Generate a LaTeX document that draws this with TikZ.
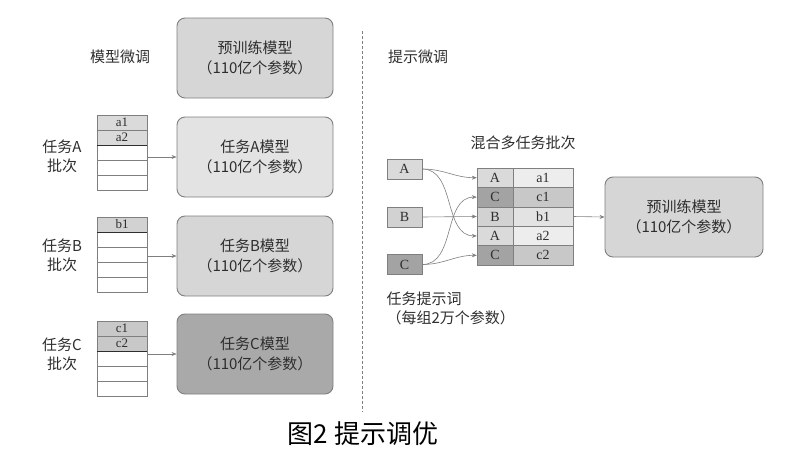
\documentclass[tikz,border=0pt]{standalone}
\usepackage{fontspec}
\setmainfont{Liberation Serif}
\newfontfamily\cjk{Noto Sans CJK SC}
\usetikzlibrary{arrows.meta}
\definecolor{bordo}{HTML}{7F7F7F}
\definecolor{testo}{HTML}{2E2E2E}
\definecolor{grigiomod}{HTML}{D6D6D6}
\definecolor{grigioA}{HTML}{E3E3E3}
\definecolor{grigioC}{HTML}{A9A9A9}
\definecolor{rigaA}{HTML}{DADADA}
\definecolor{rigaB}{HTML}{D2D2D2}
\definecolor{rigaC}{HTML}{C8C8C8}
\definecolor{chiaveC}{HTML}{A3A3A3}
\definecolor{chiaro}{HTML}{EDEDED}
\tikzset{
  modello/.style={draw=bordo, line width=0.9pt, rounded corners=8pt, minimum width=156pt, minimum height=80pt, align=center, text=testo, font=\cjk\fontsize{15}{20}\selectfont},
  riga/.style={draw=bordo, minimum width=50pt, minimum height=15pt, inner sep=0pt, text=testo, font=\fontsize{13}{13}\selectfont},
  cella/.style={draw=bordo, minimum height=19.4pt, inner sep=0pt, text=testo, font=\fontsize{14}{14}\selectfont},
  prompt/.style={draw=bordo, minimum width=35pt, minimum height=20pt, inner sep=0pt, text=testo, font=\fontsize{14}{14}\selectfont},
  etichetta/.style={text=testo, align=center, font=\cjk\fontsize{15}{19}\selectfont},
  freccia/.style={draw=bordo, line width=0.6pt, -{Stealth[length=5pt,width=4pt]}}
}
\begin{document}
\begin{tikzpicture}[x=1pt,y=-1pt]
  \useasboundingbox (0,0) rectangle (796,453);

  % parte sinistra: modello per ogni compito
  \node[etichetta] (titsx) at (120,57) {模型微调};
  \node[modello, fill=grigiomod] (pre) at (255,58) {预训练模型\\（110亿个参数）};
  \node[modello, fill=grigioA] (modA) at (255,157) {任务A模型\\（110亿个参数）};
  \node[modello, fill=grigiomod] (modB) at (255,256) {任务B模型\\（110亿个参数）};
  \node[modello, fill=grigioC] (modC) at (255,354) {任务C模型\\（110亿个参数）};

  % batch A
  \foreach \i/\t/\c in {1/a1/rigaA,2/a2/rigaA,3//white,4//white,5//white}
    \node[riga, fill=\c] (ba\i) at (122,107.5+15*\i) {\t};
  \draw[line width=1pt, testo] (ba2.south west) -- (ba2.south east);
  \node[etichetta] (labA) at (62,156) {任务A\\批次};
  \draw[freccia] (ba3.east |- modA) -- (modA.west);

  % batch B
  \foreach \i/\t/\c in {1/b1/rigaB,2//white,3//white,4//white,5//white}
    \node[riga, fill=\c] (bb\i) at (122,209.5+15*\i) {\t};
  \draw[line width=1pt, testo] (bb1.south west) -- (bb1.south east);
  \node[etichetta] (labB) at (62,255) {任务B\\批次};
  \draw[freccia] (bb3.east |- modB) -- (modB.west);

  % batch C
  \foreach \i/\t/\c in {1/c1/rigaC,2/c2/rigaC,3//white,4//white,5//white}
    \node[riga, fill=\c] (bc\i) at (122,313.5+15*\i) {\t};
  \draw[line width=1pt, testo] (bc2.south west) -- (bc2.south east);
  \node[etichetta] (labC) at (62,354) {任务C\\批次};
  \draw[freccia] (bc3.east |- modC) -- (modC.west);

  % separazione
  \draw[bordo, line width=0.8pt, dash pattern=on 3pt off 2pt] (362,31) -- (362,412);

  % parte destra: prompt tuning
  \node[etichetta] (titdx) at (418,57) {提示微调};
  \node[prompt, fill=rigaA] (pA) at (404.5,169) {A};
  \node[prompt, fill=rigaB] (pB) at (404.5,217) {B};
  \node[prompt, fill=chiaveC] (pC) at (404.5,264.5) {C};
  \node[etichetta, anchor=west, align=left] (labP) at (383,308.5) {任务提示词\\（每组2万个参数）};

  % batch misto
  \node[etichetta] (titmix) at (523,143) {混合多任务批次};
  \foreach \i/\k/\t/\ck/\ct in {1/A/a1/rigaA/chiaro,2/C/c1/chiaveC/rigaC,3/B/b1/rigaB/grigioA,4/A/a2/rigaA/chiaro,5/C/c2/chiaveC/rigaC}{
    \node[cella, minimum width=36pt, fill=\ck] (k\i) at (495,158.3+19.4*\i) {\k};
    \node[cella, minimum width=60pt, fill=\ct] (t\i) at (543,158.3+19.4*\i) {\t};
  }
  \draw[freccia] (pA.east) to[out=0, in=180] (k1.west);
  \draw[freccia] (pA.east) to[out=0, in=180] (k4.west);
  \draw[freccia] (pB.east) -- (k3.west);
  \draw[freccia] (pC.east) to[out=0, in=180] (k2.west);
  \draw[freccia] (pC.east) to[out=0, in=180] (k5.west);

  \node[modello, fill=grigiomod, minimum width=158pt] (predx) at (684,217) {预训练模型\\（110亿个参数）};
  \draw[freccia] (t3.east) -- (predx.west);

  % didascalia
  \node[font=\cjk\fontsize{26}{26}\selectfont] (didascalia) at (363,434) {图2 提示调优};
\end{tikzpicture}
\end{document}
